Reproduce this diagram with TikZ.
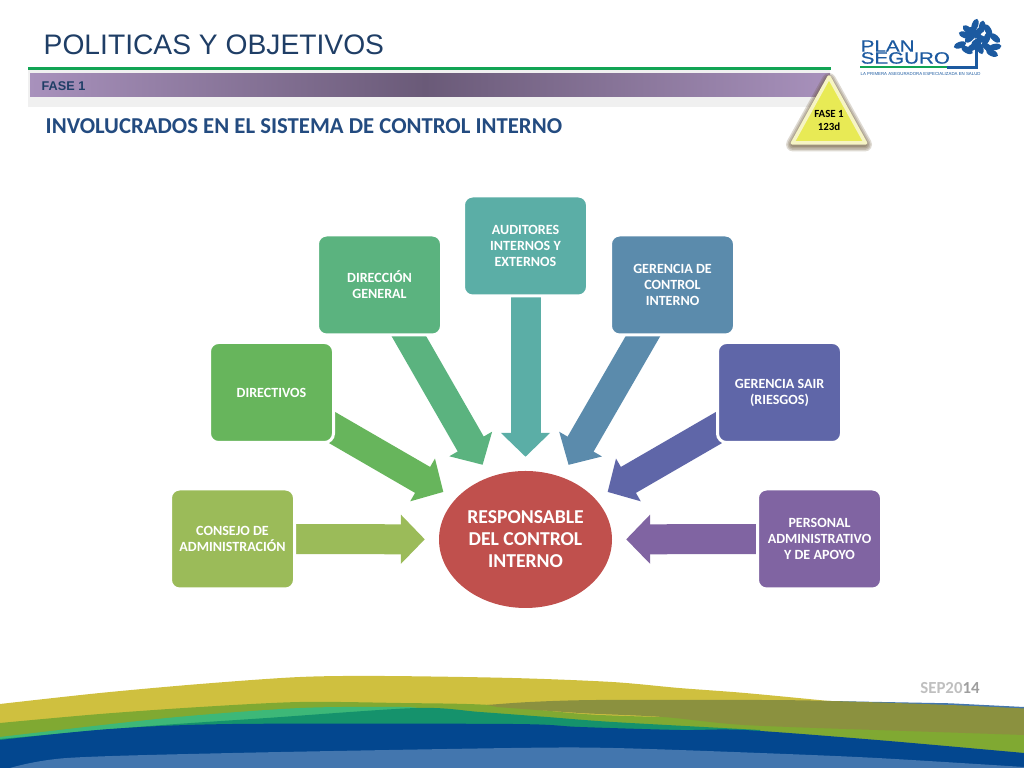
\documentclass[tikz,border=0pt]{standalone}
\usepackage{fontspec}
\setmainfont{Carlito}
\newfontfamily\arialfont{Liberation Sans}
\newfontfamily\logofont[FakeStretch=1.26,FakeBold=.6]{Liberation Sans}
\usepackage{xcolor}
\usepackage{tikz}
\usetikzlibrary{arrows.meta,backgrounds,shapes.geometric}
\definecolor{titleblue}{HTML}{1F3E66}
\definecolor{headblue}{HTML}{234B80}
\definecolor{logoblue}{HTML}{1C5AA0}
\definecolor{barpurple}{HTML}{A891BC}
\definecolor{bardark}{HTML}{6A5A78}
\definecolor{linegreen}{HTML}{12A454}
\definecolor{tagyellow}{HTML}{E8EA55}
\definecolor{tagedge}{HTML}{F6F4C4}
\definecolor{tagshadow}{HTML}{5A4520}
\definecolor{cconsejo}{HTML}{9BBB59}
\definecolor{cdirectivos}{HTML}{67B55C}
\definecolor{cdireccion}{HTML}{5BB37F}
\definecolor{cauditores}{HTML}{5BAEA6}
\definecolor{cgerencia}{HTML}{5B8BAC}
\definecolor{csair}{HTML}{5F66A8}
\definecolor{cpersonal}{HTML}{8064A2}
\definecolor{cresp}{HTML}{C0504D}
\definecolor{bandyellow}{HTML}{CFC03F}
\definecolor{bandgreen}{HTML}{80A932}
\definecolor{bandolive}{HTML}{8B913F}
\definecolor{bandmint}{HTML}{3DB878}
\definecolor{bandteal}{HTML}{15926C}
\definecolor{bandblue}{HTML}{03478F}
\definecolor{bandsky}{HTML}{4376AE}
\tikzset{
  boxnode/.style={draw=white,line width=.03cm,rounded corners=.09cm,minimum width=1.24cm,minimum height=1cm,
    inner sep=0pt,align=center,text=white,font=\fontsize{4}{4.55}\selectfont\bfseries},
  logotext/.style={anchor=west,inner sep=0pt,text=logoblue,font=\logofont\fontsize{4.65}{4.65}\selectfont}
}
\begin{document}
\begin{tikzpicture}
  \useasboundingbox (0,0) rectangle (10.24,7.68);
  % header
  \fill[black!6] (.28,6.61) rectangle (8.3,6.98);
  \fill[left color=barpurple,right color=bardark] (.3,6.71) rectangle (4.25,6.94);
  \fill[left color=bardark,right color=barpurple] (4.25,6.71) rectangle (8.3,6.94);
  \fill[linegreen] (.28,6.98) rectangle (8.31,7.01);
  \node[anchor=west,inner sep=0pt,text=titleblue,font=\arialfont\fontsize{8.03}{8}\selectfont] (title) at (.43,7.23) {POLITICAS Y OBJETIVOS};
  \node[anchor=west,inner sep=0pt,text=titleblue,font=\arialfont\fontsize{3.6}{4}\selectfont\bfseries] (fase) at (.41,6.82) {FASE 1};
  \node[anchor=west,inner sep=0pt,text=headblue,font=\fontsize{6.47}{7}\selectfont\bfseries] (subtitle) at (.45,6.42) {INVOLUCRADOS EN EL SISTEMA DE CONTROL INTERNO};
  % triangle
  \foreach \w in {.14,.11,.08,.05}
    \draw[line width=\w cm,line join=round,draw=tagshadow,opacity=.2] (7.93,6.235) -- (8.29,6.88) -- (8.65,6.235) -- cycle;
  \draw[fill=tagyellow,draw=tagedge,line width=.035cm,line join=round] (7.925,6.25) -- (8.29,6.91) -- (8.655,6.25) -- cycle;
  \node[align=center,inner sep=0pt,font=\fontsize{3.1}{3.7}\selectfont\bfseries] (fasetag) at (8.29,6.475) {FASE 1\\123d};
  % logo
  \node[logotext] (plan) at (8.6,7.22) {PLAN};
  \node[logotext] (seguro) at (8.6,7.1) {SEGURO};
  \node[anchor=west,inner sep=0pt,text=logoblue,font=\arialfont\fontsize{1.24}{2}\selectfont] (tagline) at (8.6,6.94) {LA PRIMERA ASEGURADORA ESPECIALIZADA EN SALUD};
  \fill[linegreen] (8.6,6.995) rectangle (9.47,7.02);
  \draw[logoblue,line width=.03cm] (9.47,7.005) -- (9.76,7.005) -- (9.76,7.22);
  \foreach \x/\y/\a in {9.6/7.23/20,9.67/7.18/-30,9.92/7.15/-25,9.95/7.21/10,9.87/7.21/-40,9.65/7.33/-20,9.7/7.3/40,9.68/7.38/-40,9.75/7.43/70,9.82/7.41/80,9.88/7.38/-60,9.78/7.35/60,9.95/7.3/-40,9.77/7.26/30,9.87/7.3/70,9.8/7.2/-70,9.73/7.21/30,9.82/7.29/-30,9.74/7.36/-50}
    \fill[logoblue,rotate around={\a:(\x,\y)}] (\x,\y) ellipse (.065 and .032);
  % bands
  \fill[bandsky] (8.29,.67) -- (9.5,.647) -- (10.24,.61) -- (10.24,.4) -- (8.29,.4) -- cycle;
  \fill[bandyellow] plot[smooth] coordinates {(0,.64) (1,.75) (2,.84) (3,.91) (3.83,.92) (5.12,.9) (6.12,.86) (6.79,.8) (7.45,.75) (8.29,.67)} -- (8.29,.3) -- (0,.3) -- cycle;
  \fill[bandgreen] plot[smooth] coordinates {(0,.45) (1,.54) (2,.61) (3,.66) (4,.65) (4.9,.63) (6,.53) (8,.48) (10.24,.43)} -- (10.24,.1) -- (0,.1) -- cycle;
  \fill[bandolive] plot[smooth] coordinates {(4.87,.63) (5.3,.66) (5.97,.68) (7.6,.68) (8.31,.67) (9.5,.63) (10.24,.595)} -- (10.24,.33) -- plot[smooth] coordinates {(8.77,.38) (7.44,.43) (6.63,.51) (5.8,.55) (4.97,.61)} -- cycle;
  \fill[bandmint] plot[smooth] coordinates {(0,.31) (1.67,.5) (3,.6) (4,.61) (4.17,.6)} -- (4.17,.3) -- (0,.2) -- cycle;
  \fill[bandteal] plot[smooth] coordinates {(0,.29) (1.5,.42) (2.67,.5) (4.17,.6) (4.8,.56) (5.47,.51) (6.13,.46) (7.6,.38)} -- (7.6,.2) -- (0,.2) -- cycle;
  \fill[bandblue] plot[smooth] coordinates {(0,.28) (1.1,.39) (2.33,.44) (5.12,.44) (5.8,.41) (6.8,.38) (7.44,.38) (8.77,.28) (10.24,.15)} -- (10.24,0) -- (0,0) -- cycle;
  \fill[bandsky] plot[smooth] coordinates {(.1,0) (.67,.1) (2.33,.15) (5.12,.2) (6.13,.2) (7.6,.15) (8.77,.1) (10.24,.01)} -- (10.24,0) -- cycle;
  \node[inner sep=0pt,text=black!25,font=\fontsize{4.8}{5}\selectfont\bfseries] (sep) at (9.5,.8) {SEP20\textcolor{black!38}{14}};
  % diagram
  \node[ellipse,fill=cresp,minimum width=1.73cm,minimum height=1.37cm,inner sep=0pt,align=center,text=white,
    font=\fontsize{5.6}{6.25}\selectfont\bfseries] (resp) at (5.255,2.285) {RESPONSABLE\\DEL CONTROL\\INTERNO};
  \node[boxnode,fill=cconsejo] (consejo) at (2.325,2.29) {CONSEJO DE\\ADMINISTRACIÓN};
  \node[boxnode,fill=cdirectivos] (directivos) at (2.715,3.755) {DIRECTIVOS};
  \node[boxnode,fill=cdireccion] (direccion) at (3.795,4.83) {DIRECCIÓN\\GENERAL};
  \node[boxnode,fill=cauditores] (auditores) at (5.255,5.22) {AUDITORES\\INTERNOS Y\\EXTERNOS};
  \node[boxnode,fill=cgerencia] (gerencia) at (6.725,4.83) {GERENCIA DE\\CONTROL\\INTERNO};
  \node[boxnode,fill=csair] (sair) at (7.795,3.755) {GERENCIA SAIR\\(RIESGOS)};
  \node[boxnode,fill=cpersonal] (personal) at (8.195,2.29) {PERSONAL\\ADMINISTRATIVO\\Y DE APOYO};
  \begin{scope}[on background layer]
    \foreach \n in {consejo,directivos,direccion,auditores,gerencia,sair,personal}
      \draw[line width=.3cm,shorten >=.135cm,draw=c\n,-{Triangle[length=.24cm,width=.48cm]}] (\n.center) -- (resp);
  \end{scope}
\end{tikzpicture}
\end{document}
